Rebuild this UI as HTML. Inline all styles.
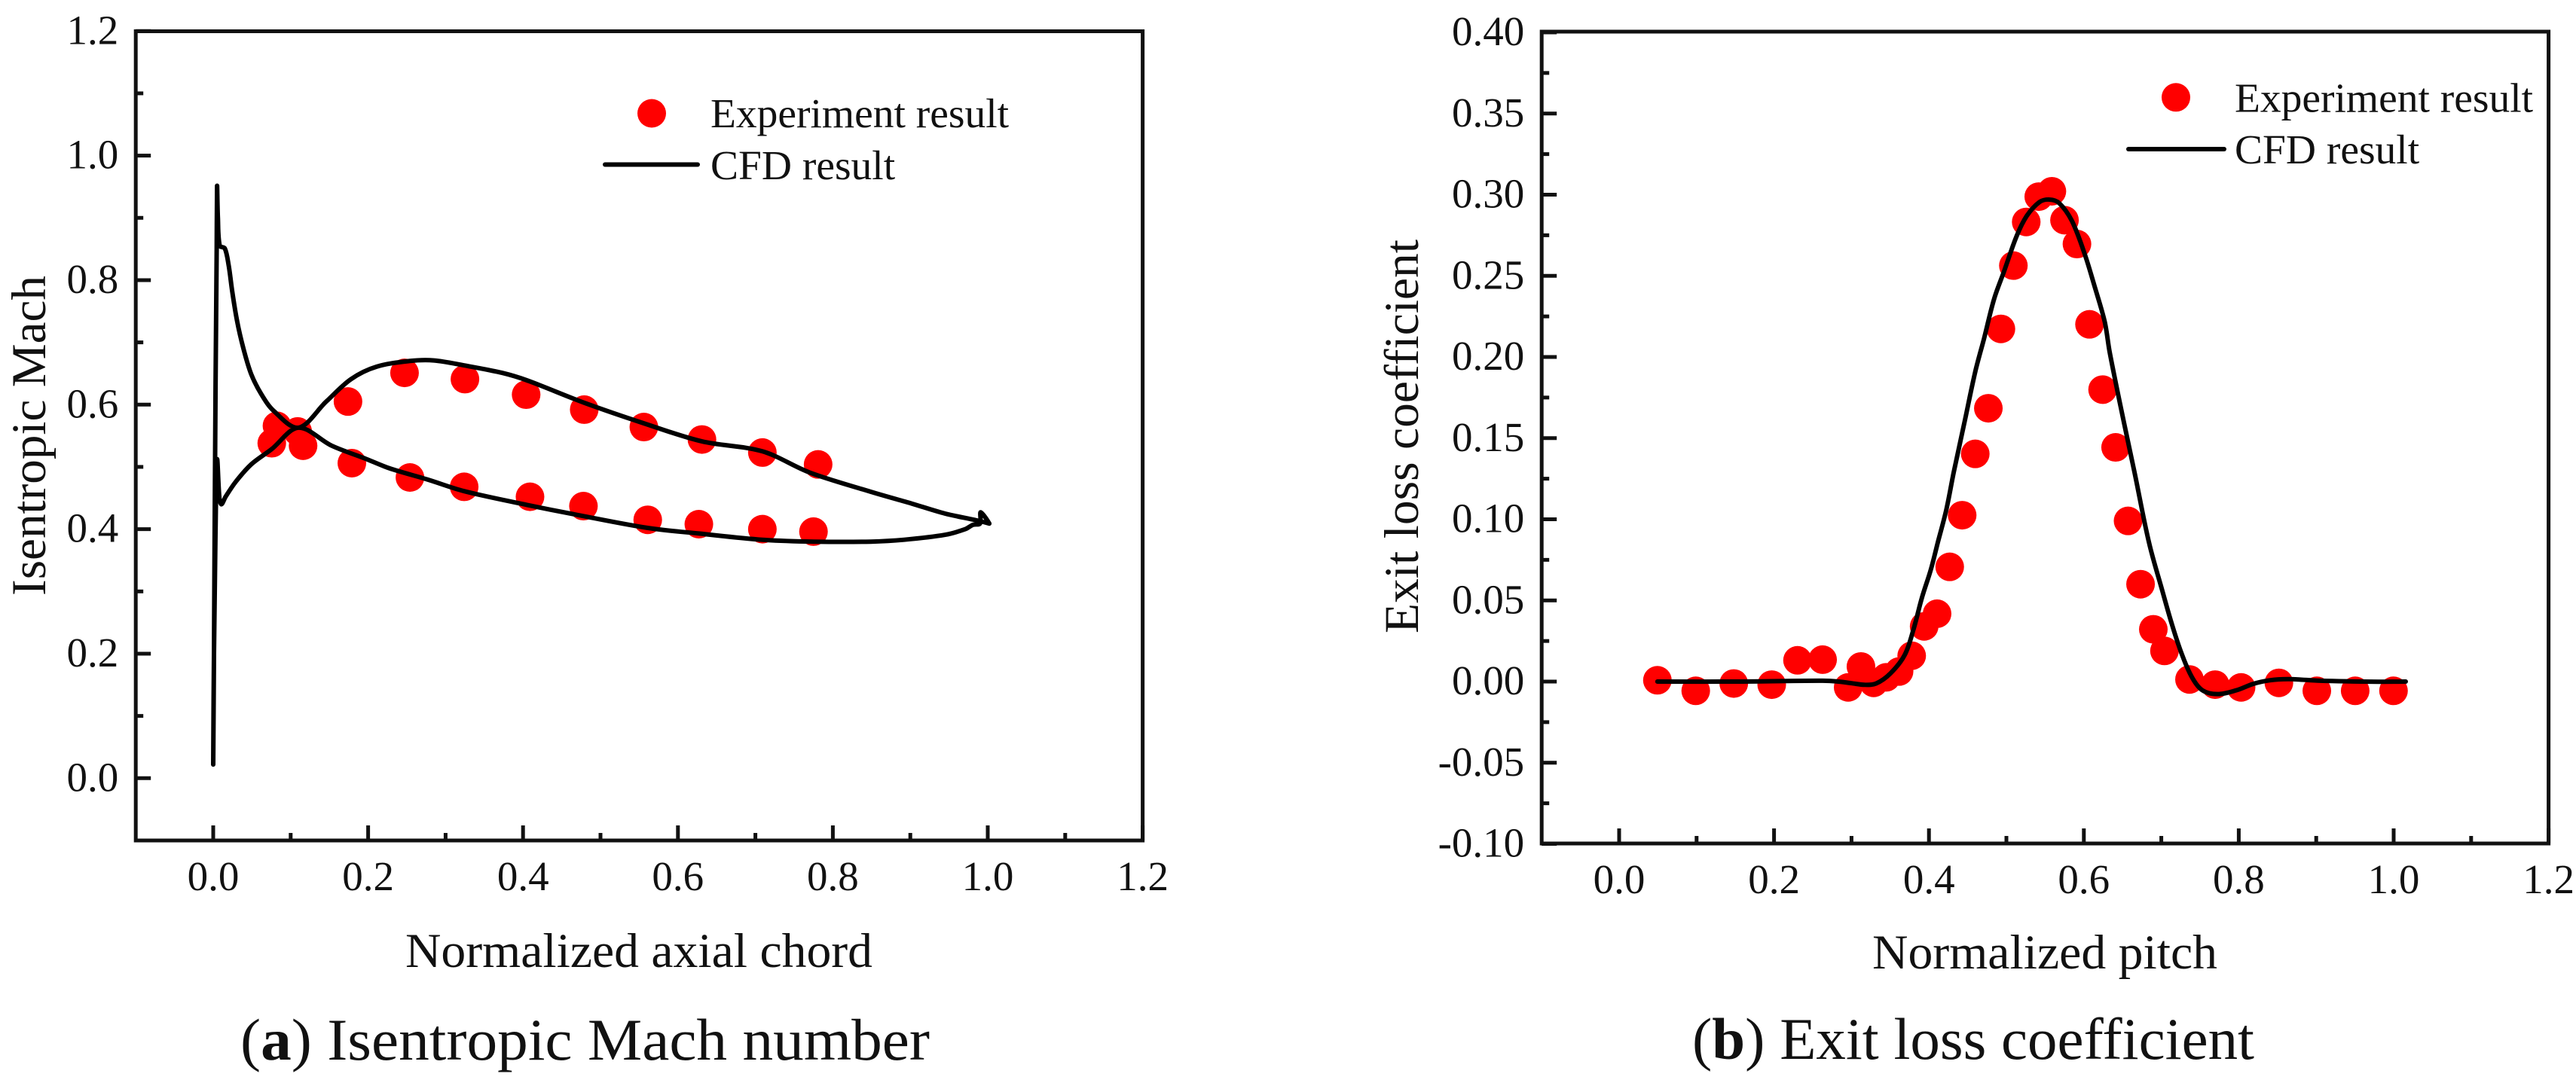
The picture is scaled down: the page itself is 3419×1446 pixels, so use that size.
<!DOCTYPE html>
<html lang="en">
<head>
<meta charset="utf-8">
<title>Isentropic Mach number and exit loss coefficient</title>
<style>
html,body{margin:0;padding:0;background:#fff}
svg{display:block}
text{font-family:"Liberation Serif",serif;fill:#111}
</style>
</head>
<body>
<svg id="figure" xmlns="http://www.w3.org/2000/svg" width="3419" height="1446" viewBox="0 0 3419 1446">
<rect x="0" y="0" width="3419" height="1446" fill="#fff"/>

<g id="panel-a">
<text x="538" y="1284" font-size="65" textLength="620" lengthAdjust="spacingAndGlyphs">Normalized axial chord</text>
<text transform="translate(60 791) rotate(-90)" font-size="65" textLength="425" lengthAdjust="spacingAndGlyphs">Isentropic Mach</text>
<text x="319" y="1407" font-size="78" textLength="915" lengthAdjust="spacingAndGlyphs">(<tspan font-weight="bold">a</tspan>) Isentropic Mach number</text>
</g>

<g id="panel-b">
<text x="2485" y="1286" font-size="65" textLength="458" lengthAdjust="spacingAndGlyphs">Normalized pitch</text>
<text transform="translate(1882 841) rotate(-90)" font-size="65" textLength="523" lengthAdjust="spacingAndGlyphs">Exit loss coefficient</text>
<text x="2246" y="1406" font-size="78" textLength="746" lengthAdjust="spacingAndGlyphs">(<tspan font-weight="bold">b</tspan>) Exit loss coefficient</text>
</g>
</svg>

<script>
// ---- Shared x axis ----
const xTickValues = [0, 0.2, 0.4, 0.6, 0.8, 1.0, 1.2];
const xTickLabels = ['0.0', '0.2', '0.4', '0.6', '0.8', '1.0', '1.2'];
const xMinorValues = [0.1, 0.3, 0.5, 0.7, 0.9, 1.1];

// ---- Panel (a) data ----
const machYTickValues = [0, 0.2, 0.4, 0.6, 0.8, 1.0, 1.2];
const machYTickLabels = ['0.0', '0.2', '0.4', '0.6', '0.8', '1.0', '1.2'];
const machYMinorValues = [0.1, 0.3, 0.5, 0.7, 0.9, 1.1];
const machExpX = [0.0756, 0.0823, 0.109, 0.116, 0.174, 0.179, 0.247, 0.254, 0.325, 0.324, 0.404, 0.409, 0.479, 0.478, 0.556, 0.561, 0.631, 0.627, 0.709, 0.709, 0.781, 0.775];
const machExpY = [0.538, 0.566, 0.557, 0.534, 0.605, 0.506, 0.651, 0.483, 0.641, 0.468, 0.616, 0.452, 0.592, 0.437, 0.564, 0.415, 0.544, 0.408, 0.523, 0.400, 0.504, 0.396];
const machCfdX = [1.002, 0.991, 0.990, 0.981, 0.971, 0.945, 0.892, 0.849, 0.775, 0.709, 0.627, 0.561, 0.478, 0.405, 0.324, 0.276, 0.227, 0.195, 0.153, 0.110, 0.075, 0.049, 0.029, 0.016, 0.0107, 0.008, 0.005, 0.003, 0.001, 0, 0.001, 0.002, 0.003, 0.0045, 0.005, 0.006, 0.0085, 0.015, 0.020, 0.0245, 0.031, 0.039, 0.049, 0.062, 0.078, 0.110, 0.146, 0.178, 0.211, 0.253, 0.285, 0.324, 0.373, 0.405, 0.479, 0.556, 0.631, 0.709, 0.770, 0.849, 0.902, 0.945, 0.986, 1.002];
const machCfdY = [0.409, 0.427, 0.409, 0.407, 0.400, 0.391, 0.383, 0.380, 0.380, 0.383, 0.393, 0.402, 0.421, 0.439, 0.461, 0.480, 0.498, 0.514, 0.534, 0.563, 0.528, 0.504, 0.476, 0.452, 0.44, 0.45, 0.512, 0.40, 0.20, 0.022, 0.20, 0.44, 0.63, 0.85, 0.951, 0.90, 0.855, 0.851, 0.823, 0.782, 0.733, 0.690, 0.649, 0.617, 0.590, 0.563, 0.605, 0.641, 0.661, 0.670, 0.671, 0.663, 0.651, 0.639, 0.603, 0.570, 0.541, 0.525, 0.491, 0.460, 0.441, 0.425, 0.414, 0.409];

// ---- Panel (b) data ----
const lossYTickValues = [-0.10, -0.05, 0, 0.05, 0.10, 0.15, 0.20, 0.25, 0.30, 0.35, 0.40];
const lossYTickLabels = ['-0.10', '-0.05', '0.00', '0.05', '0.10', '0.15', '0.20', '0.25', '0.30', '0.35', '0.40'];
const lossYMinorValues = [-0.075, -0.025, 0.025, 0.075, 0.125, 0.175, 0.225, 0.275, 0.325, 0.375];
const lossExpX = [0.0494, 0.0989, 0.148, 0.197, 0.2303, 0.2627, 0.2957, 0.3122, 0.3286, 0.3447, 0.3614, 0.3777, 0.3938, 0.4105, 0.4268, 0.4429, 0.4598, 0.4767, 0.4929, 0.509, 0.5256, 0.5418, 0.5587, 0.575, 0.5911, 0.6073, 0.6242, 0.641, 0.6571, 0.6732, 0.6897, 0.7041, 0.7364, 0.7695, 0.803, 0.8518, 0.9008, 0.9503, 0.9998];
const lossExpY = [0.0008, -0.0057, -0.0012, -0.0019, 0.0131, 0.0135, -0.0036, 0.0093, -0.0008, 0.0026, 0.0062, 0.0159, 0.034, 0.0418, 0.0707, 0.1025, 0.1403, 0.1684, 0.2173, 0.2563, 0.2832, 0.2988, 0.3021, 0.2843, 0.2696, 0.2201, 0.1799, 0.1443, 0.099, 0.06, 0.0322, 0.0189, 0.0013, -0.0019, -0.0036, -0.0008, -0.0057, -0.0057, -0.0057];
const lossCfdX = [0.0494, 0.15, 0.2627, 0.283, 0.30, 0.3167, 0.3316, 0.3502, 0.3687, 0.38, 0.3911, 0.4023, 0.4115, 0.4225, 0.432, 0.4467, 0.4598, 0.471, 0.4842, 0.4971, 0.5133, 0.5263, 0.5425, 0.5554, 0.5684, 0.5846, 0.6009, 0.6138, 0.6268, 0.6332, 0.6465, 0.6654, 0.684, 0.701, 0.714, 0.727, 0.74, 0.7531, 0.7726, 0.7967, 0.8182, 0.84, 0.8658, 0.9052, 0.98, 1.0156];
const lossCfdY = [0, 0, 0.0005, 0, -0.001, -0.002, -0.0012, 0.005, 0.0164, 0.032, 0.052, 0.0688, 0.0858, 0.106, 0.129, 0.1616, 0.191, 0.2111, 0.2359, 0.2529, 0.2746, 0.2869, 0.2954, 0.297, 0.2947, 0.2838, 0.2637, 0.2436, 0.2219, 0.2034, 0.1717, 0.129, 0.0858, 0.0565, 0.0348, 0.0162, 0.0023, -0.0054, -0.0077, -0.0054, -0.0015, 0.0008, 0.0015, 0.0005, -0.0001, 0];

// ---- Helpers ----
const SVG_NS = 'http://www.w3.org/2000/svg';
function make(parent, tag, attrs) {
  const el = document.createElementNS(SVG_NS, tag);
  for (const k in attrs) el.setAttribute(k, attrs[k]);
  parent.appendChild(el);
  return el;
}

// Smooth curve through the data points; tangents are scaled by neighbouring
// chord lengths so the sharp leading-edge spikes stay sharp.
function smoothPath(px, py) {
  const n = px.length;
  const dist = function (a, b) { return Math.hypot(px[b] - px[a], py[b] - py[a]) || 1e-6; };
  const tan = function (i) {
    if (i === 0 || i === n - 1) return [0, 0];
    const d1 = dist(i - 1, i), d2 = dist(i, i + 1);
    const s = d1 + d2;
    const tx = (px[i + 1] - px[i - 1]) / s, ty = (py[i + 1] - py[i - 1]) / s;
    return [tx, ty];
  };
  let d = 'M' + px[0].toFixed(1) + ' ' + py[0].toFixed(1);
  for (let i = 0; i < n - 1; i++) {
    const t0 = tan(i), t1 = tan(i + 1), len = dist(i, i + 1) / 3;
    d += ' C' + (px[i] + t0[0] * len).toFixed(1) + ' ' + (py[i] + t0[1] * len).toFixed(1) + ' ' +
         (px[i + 1] - t1[0] * len).toFixed(1) + ' ' + (py[i + 1] - t1[1] * len).toFixed(1) + ' ' +
         px[i + 1].toFixed(1) + ' ' + py[i + 1].toFixed(1);
  }
  return d;
}

function drawPanel(parent, prefix, xAxis, yAxis, yTicks, yLabels, yMinor, expX, expY, cfdX, cfdY, legend) {
  const frame = make(parent, 'rect', {x: xAxis(-0.1), y: yAxis.top, width: xAxis(1.2) - xAxis(-0.1), height: yAxis.bottom - yAxis.top, fill: 'none', stroke: '#111', 'stroke-width': 5});
  
  

  xTickValues.forEach(function (v, i) {
    const t = make(parent, 'line', {x1: xAxis(v), x2: xAxis(v), y1: yAxis.bottom, y2: yAxis.bottom - 20, stroke: '#111', 'stroke-width': 5});
    
    
    const l = make(parent, 'text', {x: xAxis(v), y: yAxis.bottom + 66, 'font-size': 55, 'text-anchor': 'middle'});
    l.textContent = xTickLabels[i];
    
    
  });
  xMinorValues.forEach(function (v) {
    const t = make(parent, 'line', {x1: xAxis(v), x2: xAxis(v), y1: yAxis.bottom, y2: yAxis.bottom - 10, stroke: '#111', 'stroke-width': 5});
    
    
  });
  const x0 = xAxis(-0.1);
  yTicks.forEach(function (v, i) {
    const t = make(parent, 'line', {x1: x0, x2: x0 + 20, y1: yAxis(v), y2: yAxis(v), stroke: '#111', 'stroke-width': 5});
    
    
    const l = make(parent, 'text', {x: x0 - 23, y: yAxis(v) + 17, 'font-size': 55, 'text-anchor': 'end'});
    l.textContent = yLabels[i];
    
    
  });
  yMinor.forEach(function (v) {
    const t = make(parent, 'line', {x1: x0, x2: x0 + 10, y1: yAxis(v), y2: yAxis(v), stroke: '#111', 'stroke-width': 5});
    
    
  });

  expX.forEach(function (v, i) {
    const c = make(parent, 'circle', {cx: xAxis(v), cy: yAxis(expY[i]), r: 19, fill: '#ff0000'});
    
    
  });

  const line = make(parent, 'path', {d: smoothPath(cfdX.map(xAxis), cfdY.map(yAxis)), fill: 'none', stroke: '#000', 'stroke-width': 6, 'stroke-linejoin': 'round', 'stroke-linecap': 'round'});
  
  

  const m = make(parent, 'circle', {cx: legend.mx, cy: legend.my, r: 19, fill: '#ff0000'});
  
  
  const t1 = make(parent, 'text', {x: legend.tx, y: legend.ty1, 'font-size': 55.5});
  t1.textContent = 'Experiment result';
  
  
  const ll = make(parent, 'line', {x1: legend.lx1, x2: legend.lx2, y1: legend.ly, y2: legend.ly, stroke: '#000', 'stroke-width': 6, 'stroke-linecap': 'round'});
  
  
  const t2 = make(parent, 'text', {x: legend.tx, y: legend.ty2, 'font-size': 55.5});
  t2.textContent = 'CFD result';
  
  
}

// ---- Axis functions ----
const xA = function (v) { return 283 + 1028 * v; };
const yA = function (v) { return 1033.3 - 826.7 * v; };
yA.top = 41.5; yA.bottom = 1116;
const xB = function (v) { return 2149 + 1028 * v; };
const yB = function (v) { return 905 - 2155 * v; };
yB.top = 42; yB.bottom = 1120;

drawPanel(document.getElementById('panel-a'), 'panel-a', xA, yA, machYTickValues, machYTickLabels, machYMinorValues, machExpX, machExpY, machCfdX, machCfdY,
  {mx: 865, my: 150.5, tx: 943, ty1: 169, ty2: 238, lx1: 803, lx2: 926, ly: 218.5});
drawPanel(document.getElementById('panel-b'), 'panel-b', xB, yB, lossYTickValues, lossYTickLabels, lossYMinorValues, lossExpX, lossExpY, lossCfdX, lossCfdY,
  {mx: 2888, my: 129.3, tx: 2966, ty1: 148.5, ty2: 217, lx1: 2825, lx2: 2952, ly: 198});
</script>
</body>
</html>
